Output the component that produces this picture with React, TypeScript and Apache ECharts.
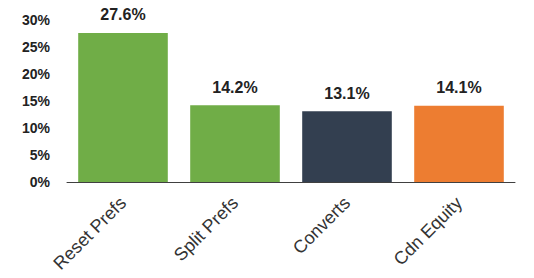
import React, { useEffect, useRef } from "react";
import * as echarts from "echarts";

const categories = ["Reset Prefs", "Split Prefs", "Converts", "Cdn Equity"];
const values = [27.6, 14.2, 13.1, 14.1];
const barColors = ["#70AD47", "#70AD47", "#333F50", "#ED7D31"];
const yTicks = [0, 5, 10, 15, 20, 25, 30];

export default function App() {
  const ref = useRef<HTMLDivElement>(null);
  useEffect(() => {
    const chart = echarts.init(ref.current!, null, { renderer: "svg" });
    chart.setOption({
      animation: false,
      grid: { left: 67, right: 19, top: 20, bottom: 96, outerBoundsMode: "none", containLabel: false },
      xAxis: {
        type: "category",
        data: categories,
        axisLine: { lineStyle: { color: "#404040", width: 1 } },
        axisTick: { show: false },
        axisLabel: {
          rotate: 45,
          interval: 0,
          margin: 18,
          color: "#333",
          fontFamily: "Liberation Sans, Arial, sans-serif",
          fontSize: 18,
        },
      },
      yAxis: {
        type: "value",
        min: yTicks[0],
        max: yTicks[yTicks.length - 1],
        interval: 5,
        splitLine: { show: false },
        axisLine: { show: false },
        axisTick: { show: false },
        axisLabel: {
          formatter: "{value}%",
          margin: 17,
          color: "#222",
          fontWeight: "bold",
          fontFamily: "Liberation Sans, Arial, sans-serif",
          fontSize: 14,
        },
      },
      series: [
        {
          type: "bar",
          barCategoryGap: "20%",
          data: values.map((v, i) => ({ value: v, itemStyle: { color: barColors[i] } })),
          label: {
            show: true,
            position: "top",
            distance: 10,
            formatter: (p: any) => p.value.toFixed(1) + "%",
            color: "#222",
            fontWeight: "bold",
            fontFamily: "Liberation Sans, Arial, sans-serif",
            fontSize: 16,
          },
        },
      ],
    });
    return () => chart.dispose();
  }, []);
  return (
    <div
      ref={ref}
      style={{ position: "fixed", left: 0, top: 0, width: 534, height: 278, background: "#fff" }}
    />
  );
}
